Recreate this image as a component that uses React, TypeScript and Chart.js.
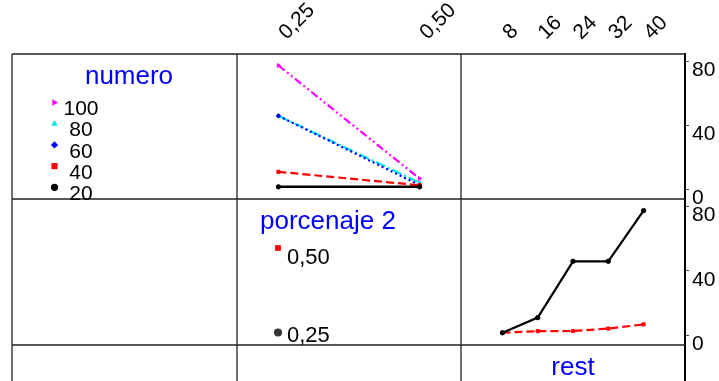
import React, { useEffect, useRef } from "react";
import { Chart, registerables } from "chart.js";

Chart.register(...registerables);

// ---------------- data ----------------
const numeroLevels = ["20", "40", "60", "80", "100"];
const porcentajeValues = [0.25, 0.5];
const porcentajeLabels = ["0,25", "0,50"];
const restValues = [8, 16, 24, 32, 40];
const yTickValues = [0, 40, 80];
// mean response for each numero / rest level at porcenaje 0,25 and 0,50
const meanAt025 = [1.6, 11, 46, 46, 77.5];
const meanAt050 = [1.6, 2.6, 2.7, 4.2, 6.8];

// ---------------- styles ----------------
const numeroColors = ["#000000", "#ff0000", "#0000ff", "#00e8e8", "#ff00ff"];
const numeroDashes: number[][] = [[], [8, 4], [2, 3], [10, 3, 2, 3], [8, 3, 2, 3, 2, 3]];
const numeroPointStyles = ["circle", "rect", "rectRot", "triangle", "triangle"];
const numeroRotations = [0, 0, 0, 0, 90];
const porcColors = ["#000000", "#ff0000"];
const porcDashes: number[][] = [[], [8, 4]];
const porcPointStyles = ["circle", "rect"];

const FONT = "'Liberation Sans', Arial, Helvetica, sans-serif";
const W = 719;
const H = 381;
const cols = [12, 237, 461, 685];
const rows = [54, 199, 345, 490];
const PAD = { top: 0, left: cols[0], right: 0, bottom: 0 };

// map a cell domain onto the whole chart area (horizontal)
function hRange(a: number, b: number, d0: number, d1: number) {
  const ppu = (b - a) / (d1 - d0);
  return { min: d0 - (a - cols[0]) / ppu, max: d1 + (cols[3] - b) / ppu };
}
// vertical: t is top pixel (d1), bt bottom pixel (d0)
function vRange(t: number, bt: number, d0: number, d1: number) {
  const ppu = (bt - t) / (d1 - d0);
  return { min: d0 - (H - bt) / ppu, max: d1 + (t - rows[0]) / ppu };
}
function cellDomain(lo: number, hi: number, frac: number) {
  const span = (hi - lo) / (1 - 2 * frac);
  const m = span * frac;
  return [lo - m, hi + m];
}
// value on range "to" that sits at the same place as value v on range "from"
function remap(v: number, from: { min: number; max: number }, to: { min: number; max: number }) {
  const f = (v - from.min) / (from.max - from.min);
  return to.min + f * (to.max - to.min);
}

const pDom = cellDomain(porcentajeValues[0], porcentajeValues[1], 0.185);
const rDom = cellDomain(restValues[0], restValues[restValues.length - 1], 0.185);
const yDom = [-6, 84.7];

const xPRange = hRange(cols[1], cols[2], pDom[0], pDom[1]);
const xRRange = hRange(cols[2], cols[3], rDom[0], rDom[1]);
const yTopRange = vRange(rows[0], rows[1], yDom[0], yDom[1]);
const yMidRange = vRange(rows[1], rows[2], yDom[0], yDom[1]);

// combined top ticks (porcenaje cell + rest cell) expressed on the xP scale
const topTickValues = [
  ...porcentajeValues,
  ...restValues.map((r) => remap(r, xRRange, xPRange)),
];
const topTickLabels = [...porcentajeLabels, ...restValues.map(String)];
// combined right ticks (row 1 + row 2) expressed on the yTop scale
const rightTickValues = [
  ...yTickValues,
  ...yTickValues.map((v) => remap(v, yMidRange, yTopRange)),
];
const rightTickLabels = [...yTickValues.map(String), ...yTickValues.map(String)];

function drawMarker(ctx: CanvasRenderingContext2D, style: string, rot: number, x: number, y: number, r: number, color: string) {
  ctx.save();
  ctx.fillStyle = color;
  ctx.translate(x, y);
  ctx.rotate((rot * Math.PI) / 180);
  ctx.beginPath();
  if (style === "circle") {
    ctx.arc(0, 0, r, 0, Math.PI * 2);
  } else if (style === "rect") {
    ctx.rect(-r * 0.85, -r * 0.85, r * 1.7, r * 1.7);
  } else if (style === "rectRot") {
    ctx.moveTo(0, -r);
    ctx.lineTo(r, 0);
    ctx.lineTo(0, r);
    ctx.lineTo(-r, 0);
    ctx.closePath();
  } else {
    ctx.moveTo(0, -r);
    ctx.lineTo(r * 0.9, r * 0.6);
    ctx.lineTo(-r * 0.9, r * 0.6);
    ctx.closePath();
  }
  ctx.fill();
  ctx.restore();
}

const zeroPad = (s: any) => {
  s.paddingLeft = 0;
  s.paddingRight = 0;
  s.paddingTop = 0;
  s.paddingBottom = 0;
};

const matrixPlugin = {
  id: "matrixPlugin",
  beforeDatasetsDraw(chart: any) {
    const ctx: CanvasRenderingContext2D = chart.ctx;
    ctx.save();
    ctx.strokeStyle = "#222";
    ctx.lineWidth = 1.3;
    ctx.beginPath();
    for (let i = 0; i < 3; i++) {
      ctx.moveTo(cols[i], rows[0]);
      ctx.lineTo(cols[i], H);
    }
    for (let j = 0; j < 3; j++) {
      ctx.moveTo(cols[0], rows[j]);
      ctx.lineTo(cols[3], rows[j]);
    }
    ctx.stroke();
    ctx.restore();
  },
  afterDraw(chart: any) {
    const ctx: CanvasRenderingContext2D = chart.ctx;
    ctx.save();
    ctx.textBaseline = "alphabetic";
    // strip titles
    ctx.fillStyle = "#0000ff";
    ctx.font = `26px ${FONT}`;
    ctx.textAlign = "center";
    ctx.fillText("numero", 129, 84);
    ctx.fillText("rest", 573, 375);
    ctx.textAlign = "left";
    ctx.fillText("porcenaje 2", 260, 229);

    // numero legend
    ctx.font = `21px ${FONT}`;
    ctx.fillStyle = "#000";
    ctx.textAlign = "center";
    for (let k = 0; k < numeroLevels.length; k++) {
      const i = numeroLevels.length - 1 - k;
      const my = 102.5 + k * 21.2;
      drawMarker(ctx, numeroPointStyles[i], numeroRotations[i], 54.5, my, 3.6, numeroColors[i]);
      ctx.fillStyle = "#000";
      ctx.fillText(numeroLevels[i], 81, 115 + k * 21.3);
    }

    // porcenaje legend
    ctx.textAlign = "left";
    ctx.font = `22px ${FONT}`;
    drawMarker(ctx, porcPointStyles[1], 0, 278, 248, 3.4, porcColors[1]);
    ctx.fillStyle = "#000";
    ctx.fillText(porcentajeLabels[1], 287, 263.5);
    drawMarker(ctx, porcPointStyles[0], 0, 278, 332.5, 4, "#333");
    ctx.fillStyle = "#000";
    ctx.fillText(porcentajeLabels[0], 287, 341.5);
    ctx.restore();
  },
};

export default function App() {
  const ref = useRef<HTMLCanvasElement>(null);
  useEffect(() => {
    if (!ref.current) return;
    const numeroSets = numeroLevels.map((lvl, i) => ({
      label: "numero " + lvl,
      data: porcentajeValues.map((p, j) => ({ x: p, y: j === 0 ? meanAt025[i] : meanAt050[i] })),
      xAxisID: "xP",
      yAxisID: "yTop",
      borderColor: numeroColors[i],
      backgroundColor: numeroColors[i],
      borderDash: numeroDashes[i],
      borderWidth: i === 0 ? 2.5 : 2.2,
      pointStyle: numeroPointStyles[i],
      pointRotation: numeroRotations[i],
      pointRadius: 2.2,
      pointHoverRadius: 2.2,
      pointBorderWidth: 1,
      pointBackgroundColor: numeroColors[i],
      pointBorderColor: numeroColors[i],
      tension: 0,
      fill: false,
    }));
    const porcSets = porcentajeValues.map((p, k) => ({
      label: "porcenaje " + porcentajeLabels[k],
      data: restValues.map((r, j) => ({ x: r, y: k === 0 ? meanAt025[j] : meanAt050[j] })),
      xAxisID: "xR",
      yAxisID: "yMid",
      borderColor: porcColors[k],
      backgroundColor: porcColors[k],
      borderDash: porcDashes[k],
      borderWidth: 2.2,
      pointStyle: porcPointStyles[k],
      pointRadius: 2.2,
      pointHoverRadius: 2.2,
      pointBorderWidth: 1,
      pointBackgroundColor: porcColors[k],
      pointBorderColor: porcColors[k],
      tension: 0,
      fill: false,
    }));

    const chart = new Chart(ref.current, {
      type: "line",
      data: { datasets: [...numeroSets, ...porcSets] as any },
      options: {
        animation: false,
        responsive: false,
        maintainAspectRatio: false,
        events: [],
        layout: { padding: PAD, autoPadding: false },
        plugins: { legend: { display: false }, tooltip: { enabled: false } },
        scales: {
          xP: {
            type: "linear",
            position: "top",
            min: xPRange.min,
            max: xPRange.max,
            afterBuildTicks: (s: any) => {
              s.ticks = topTickValues.map((v) => ({ value: v }));
            },
            afterFit: (s: any) => {
              s.height = rows[0];
              zeroPad(s);
            },
            grid: { display: false, drawTicks: false },
            border: { display: false },
            ticks: {
              autoSkip: false,
              minRotation: 45,
              maxRotation: 45,
              padding: 9,
              labelOffset: 22,
              color: "#000",
              font: { family: FONT, size: 21 },
              callback: (_v: any, i: number) => topTickLabels[i],
            },
          },
          xR: {
            type: "linear",
            position: "top",
            display: false,
            min: xRRange.min,
            max: xRRange.max,
          },
          yTop: {
            type: "linear",
            position: "right",
            min: yTopRange.min,
            max: yTopRange.max,
            afterBuildTicks: (s: any) => {
              s.ticks = rightTickValues.map((v) => ({ value: v }));
            },
            afterFit: (s: any) => {
              s.width = W - cols[3];
              zeroPad(s);
            },
            grid: {
              display: true,
              drawOnChartArea: false,
              drawTicks: true,
              tickLength: 4,
              tickColor: "#444",
              tickWidth: 1,
            },
            border: { display: true, color: "#000", width: 2 },
            ticks: {
              autoSkip: false,
              padding: 3,
              labelOffset: 9,
              color: "#000",
              font: { family: FONT, size: 21 },
              callback: (_v: any, i: number) => rightTickLabels[i],
            },
          },
          yMid: {
            type: "linear",
            position: "right",
            display: false,
            min: yMidRange.min,
            max: yMidRange.max,
          },
        } as any,
      },
      plugins: [matrixPlugin],
    });
    return () => chart.destroy();
  }, []);

  return (
    <div
      style={{
        position: "fixed",
        left: 0,
        top: 0,
        width: W,
        height: H,
        overflow: "hidden",
        background: "#fff",
      }}
    >
      <canvas ref={ref} width={W} height={H} style={{ display: "block", width: W, height: H }} />
    </div>
  );
}
